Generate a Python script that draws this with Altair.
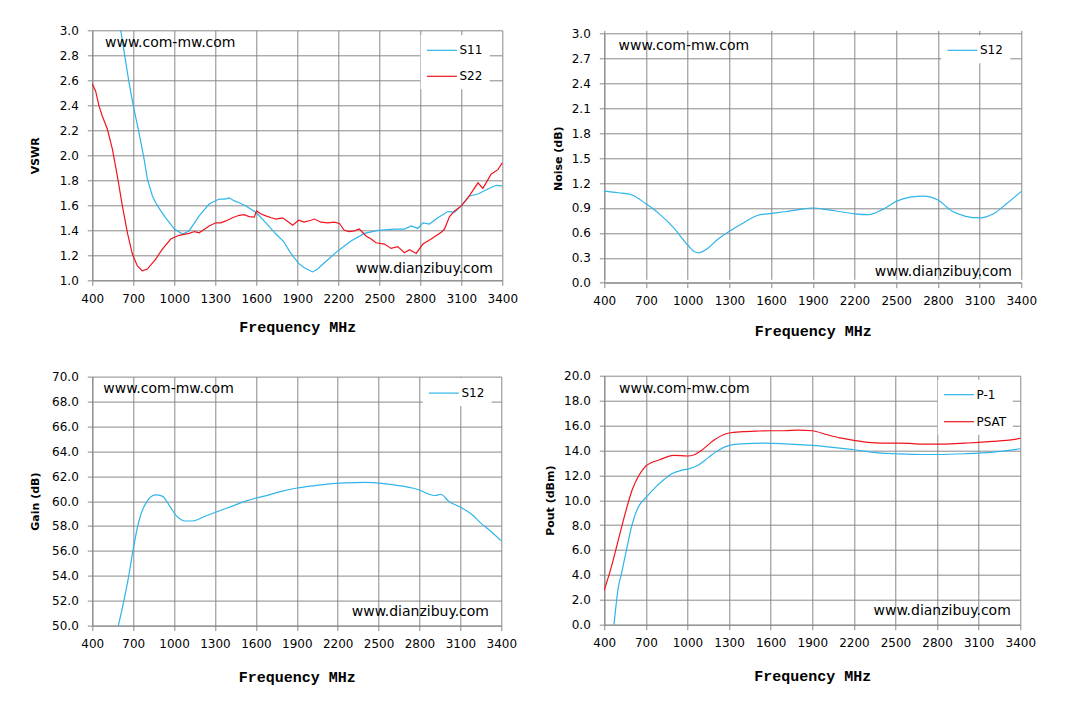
import altair as alt
import pandas as pd

BLUE = "#2EB5EA"
RED = "#F0141E"
GRID = "#898989"
FONT = "DejaVu Sans"
TITLE_FONT = "Liberation Mono"

FREQ_TICKS = [400, 700, 1000, 1300, 1600, 1900, 2200, 2500, 2800, 3100, 3400]
FREQ_TITLE = "Frequency MHz"

# ---------------- VSWR ----------------
s11_freq = [608, 669, 700, 742, 779, 803, 840, 864, 901, 937, 1001, 1060, 1108, 1182, 1255,
            1328, 1370, 1402, 1440, 1475, 1524, 1602, 1670, 1744, 1800, 1841, 1878, 1910,
            1951, 2012, 2049, 2098, 2196, 2293, 2391, 2489, 2611, 2684, 2733, 2782, 2819,
            2867, 2928, 3002, 3051, 3100, 3161, 3222, 3295, 3356, 3400]
s11_vswr = [3.00, 2.58, 2.395, 2.18, 1.97, 1.81, 1.675, 1.62, 1.555, 1.50, 1.41, 1.37, 1.395,
            1.515, 1.61, 1.65, 1.65, 1.66, 1.635, 1.62, 1.595, 1.54, 1.46, 1.37, 1.31, 1.235,
            1.18, 1.135, 1.10, 1.067, 1.09, 1.14, 1.235, 1.315, 1.375, 1.40, 1.41, 1.41, 1.435,
            1.415, 1.46, 1.45, 1.50, 1.55, 1.545, 1.595, 1.675, 1.69, 1.73, 1.76, 1.755]
s22_freq = [400, 424, 449, 473, 510, 547, 583, 620, 657, 693, 730, 766, 803, 864, 913, 974,
            1035, 1108, 1150, 1182, 1255, 1304, 1340, 1377, 1426, 1475, 1510, 1548, 1585,
            1602, 1635, 1670, 1710, 1744, 1793, 1830, 1866, 1910, 1950, 2000, 2025, 2073,
            2122, 2171, 2208, 2244, 2280, 2318, 2354, 2403, 2440, 2476, 2538, 2586, 2635,
            2684, 2721, 2770, 2819, 2880, 2953, 2977, 3014, 3051, 3100, 3161, 3222, 3258,
            3319, 3368, 3400]
s22_vswr = [2.57, 2.515, 2.395, 2.315, 2.21, 2.05, 1.835, 1.595, 1.38, 1.21, 1.115, 1.075,
            1.09, 1.17, 1.25, 1.33, 1.36, 1.375, 1.39, 1.38, 1.435, 1.46, 1.46, 1.475, 1.50,
            1.52, 1.525, 1.51, 1.505, 1.555, 1.53, 1.515, 1.50, 1.49, 1.50, 1.47, 1.44, 1.48,
            1.465, 1.48, 1.49, 1.465, 1.46, 1.465, 1.455, 1.40, 1.39, 1.395, 1.41, 1.355,
            1.33, 1.30, 1.29, 1.255, 1.27, 1.22, 1.245, 1.215, 1.29, 1.33, 1.385, 1.41, 1.51,
            1.555, 1.595, 1.68, 1.78, 1.735, 1.85, 1.885, 1.94]
vswr_ticks = [1.0, 1.2, 1.4, 1.6, 1.8, 2.0, 2.2, 2.4, 2.6, 2.8, 3.0]

# ---------------- Noise ----------------
noise_freq = [400, 500, 600, 700, 800, 900, 1000, 1050, 1080, 1150, 1200, 1300, 1400, 1500,
              1600, 1700, 1800, 1900, 2000, 2100, 2200, 2300, 2400, 2500, 2600, 2700, 2800,
              2900, 3000, 3100, 3200, 3300, 3400]
noise_db = [1.104, 1.084, 1.056, 0.95, 0.823, 0.66, 0.454, 0.373, 0.361, 0.42, 0.50, 0.62,
            0.72, 0.81, 0.835, 0.855, 0.88, 0.90, 0.88, 0.855, 0.83, 0.82, 0.88, 0.98, 1.03,
            1.044, 0.996, 0.863, 0.80, 0.78, 0.83, 0.96, 1.10]
noise_ticks = [0.0, 0.3, 0.6, 0.9, 1.2, 1.5, 1.8, 2.1, 2.4, 2.7, 3.0]

# ---------------- Gain ----------------
gain_freq = [591, 620, 669, 701, 742, 791, 865, 913, 962, 1011, 1085, 1133, 1231, 1304, 1427,
             1525, 1603, 1696, 1793, 1903, 2037, 2160, 2258, 2405, 2503, 2649, 2747, 2808,
             2869, 2918, 2955, 3016, 3102, 3187, 3248, 3310, 3400]
gain_db = [50.0, 51.4, 54.1, 56.2, 58.4, 59.8, 60.5, 60.4, 59.7, 58.9, 58.4, 58.4, 58.8, 59.1,
           59.6, 60.0, 60.25, 60.5, 60.8, 61.05, 61.25, 61.4, 61.47, 61.5, 61.45, 61.25, 61.05,
           60.85, 60.55, 60.45, 60.55, 59.97, 59.5, 58.9, 58.25, 57.7, 56.8]
gain_ticks = [50.0, 52.0, 54.0, 56.0, 58.0, 60.0, 62.0, 64.0, 66.0, 68.0, 70.0]

# ---------------- Pout ----------------
p1_freq = [470, 501, 523, 559, 595, 643, 703, 763, 835, 883, 955, 1003, 1076, 1148, 1220,
           1301, 1388, 1556, 1700, 1900, 2200, 2398, 2501, 2701, 2802, 3001, 3203, 3400]
p1_dbm = [0.0, 3.0, 4.07, 5.95, 7.8, 9.4, 10.24, 10.97, 11.7, 12.1, 12.4, 12.5, 12.8, 13.4,
          14.0, 14.4, 14.53, 14.58, 14.53, 14.4, 14.05, 13.78, 13.73, 13.67, 13.67, 13.73,
          13.86, 14.13]
psat_freq = [400, 450, 500, 550, 600, 650, 700, 800, 900, 1000, 1050, 1100, 1200, 1300, 1400,
             1500, 1600, 1700, 1800, 1900, 2000, 2100, 2200, 2300, 2400, 2500, 2600, 2700,
             2800, 2900, 3000, 3100, 3200, 3300, 3400]
psat_dbm = [2.79, 4.6, 6.75, 8.9, 10.8, 12.0, 12.75, 13.25, 13.6, 13.55, 13.65, 14.0, 14.9,
            15.4, 15.5, 15.55, 15.58, 15.58, 15.63, 15.58, 15.28, 15.0, 14.8, 14.64, 14.58,
            14.58, 14.56, 14.5, 14.5, 14.53, 14.58, 14.64, 14.72, 14.8, 14.96]
pout_ticks = [0.0, 2.0, 4.0, 6.0, 8.0, 10.0, 12.0, 14.0, 16.0, 18.0, 20.0]

WM_TOP = "www.com-mw.com"
WM_BOTTOM = "www.dianzibuy.com"


def series_df(pairs):
    rows = []
    for name, fs, vs in pairs:
        for f, v in zip(fs, vs):
            rows.append({"freq": f, "val": v, "series": name})
    return pd.DataFrame(rows)


COMMON_AXIS = dict(
    grid=True, gridColor=GRID, gridWidth=1, gridOpacity=1,
    domainColor=GRID, domainWidth=1, tickColor=GRID, tickWidth=1, tickSize=5,
    labelFont=FONT, labelFontSize=12, labelColor="#000000", titleColor="#000000",
)


def panel(df, names, colors, ydom, yticks, ytitle, title_x, xtitle_y, w, h,
          leg_x, leg_y, row_pad, interp, top_xy, bot_xy, top_gap=0.0):
    x = alt.X("freq:Q", scale=alt.Scale(domain=[400, 3400], nice=False, zero=False),
              axis=alt.Axis(values=FREQ_TICKS, format="d", labelFlush=False, labelOverlap=False,
                            labelPadding=8, title=FREQ_TITLE, titleY=xtitle_y,
                            titleBaseline="middle", titleFont=TITLE_FONT, titleFontSize=15,
                            titleFontWeight="bold", **COMMON_AXIS))
    y = alt.Y("val:Q",
              scale=alt.Scale(domain=ydom, range=[h, top_gap], nice=False, zero=False),
              axis=alt.Axis(values=yticks, format=".1f", labelPadding=9, title=ytitle,
                            titleX=title_x, titleBaseline="middle", titleFont=FONT,
                            titleFontSize=11, titleFontWeight="bold", **COMMON_AXIS))
    color = alt.Color("series:N", scale=alt.Scale(domain=names, range=colors),
                      legend=alt.Legend(orient="none", legendX=leg_x, legendY=leg_y, title=None,
                                        fillColor="white", padding=6.5, symbolType="M-2,0H2",
                                        symbolSize=225, symbolStrokeWidth=1.2, symbolOffset=6.2,
                                        labelOffset=9, rowPadding=row_pad, labelFont=FONT,
                                        labelFontSize=12, labelColor="#000000"))
    line = alt.Chart(df).mark_line(strokeWidth=1.2, interpolate=interp).encode(
        x=x, y=y, color=color)
    t1 = alt.Chart(pd.DataFrame({"label": [WM_TOP]})).mark_text(
        font=FONT, fontSize=14, color="#000000", align="left", baseline="middle").encode(
        text="label:N", x=alt.value(top_xy[0]), y=alt.value(top_xy[1]))
    t2 = alt.Chart(pd.DataFrame({"label": [WM_BOTTOM]})).mark_text(
        font=FONT, fontSize=14, color="#000000", align="right", baseline="middle").encode(
        text="label:N", x=alt.value(bot_xy[0]), y=alt.value(bot_xy[1]))
    # invisible spacer that fixes how far the panel's bounds reach above the plot
    spacer = alt.Chart(pd.DataFrame({"k": [0]})).mark_rule(
        stroke="white", strokeOpacity=0, strokeWidth=1).encode(
        x=alt.value(0), x2=alt.value(10), y=alt.value(-10))
    return alt.layer(line, t1, t2, spacer).properties(width=w, height=h)


p1 = panel(series_df([("S11", s11_freq, s11_vswr), ("S22", s22_freq, s22_vswr)]),
           ["S11", "S22"], [BLUE, RED], [1.0, 3.0], vswr_ticks, "VSWR",
           -56.6, 46.7, 410, 250, 328.4, 5.0, 11.0, "linear", (12.7, 12.7), (400.7, 239))
p2 = panel(series_df([("S12", noise_freq, noise_db)]),
           ["S12"], [BLUE], [0.0, 3.0], noise_ticks, "Noise (dB)",
           -45.7, 47.6, 417, 252.4, 337, 5.0, 9.7, "monotone", (14.3, 15.7), (407.7, 241.4),
           top_gap=3.4)
p3 = panel(series_df([("S12", gain_freq, gain_db)]),
           ["S12"], [BLUE], [50.0, 70.0], gain_ticks, "Gain (dB)",
           -56.6, 51, 409, 249, 330.4, 1.5, 9.7, "monotone", (11, 12), (396.7, 235.4))
p4 = panel(series_df([("P-1", p1_freq, p1_dbm), ("PSAT", psat_freq, psat_dbm)]),
           ["P-1", "PSAT"], [BLUE, RED], [0.0, 20.0], pout_ticks, "Pout (dBm)",
           -53.7, 51, 416, 249, 333.5, 4.0, 12.0, "monotone", (14.8, 13), (406.5, 235.4))

col1 = alt.vconcat(p1, p3, spacing=29.3).resolve_scale(color="independent", y="independent")
col2 = alt.vconcat(p2, p4, spacing=25.4).resolve_scale(color="independent", y="independent")

chart = alt.hconcat(col1, col2, spacing=25).resolve_scale(
    color="independent", y="independent"
).properties(
    padding={"left": 20.3, "top": 11.3, "right": 5, "bottom": 5},
    background="white",
).configure_view(stroke="transparent")

chart.save("out.html", embed_options={"renderer": "svg", "actions": False})
